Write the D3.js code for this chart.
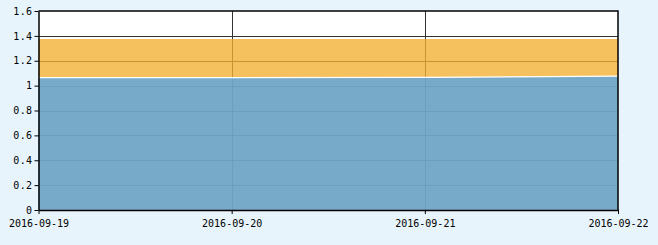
<!DOCTYPE html>
<html>
<head>
<meta charset="utf-8">
<script src="https://cdn.jsdelivr.net/npm/d3@7"></script>
<style>
  body { margin: 0; background: #e8f4fc; }
  svg text { font-family: "DejaVu Sans Mono", "Liberation Mono", monospace; font-size: 10px; fill: #000; }
</style>
</head>
<body>
<svg id="chart" width="658" height="245"></svg>
<script>
const dates = ["2016-09-19", "2016-09-20", "2016-09-21", "2016-09-22"];
const lowerSeries = [1.065, 1.065, 1.066, 1.077];
const upperSeries = [0.31, 0.31, 0.309, 0.298];
const yTicks = [0, 0.2, 0.4, 0.6, 0.8, 1, 1.2, 1.4, 1.6];

const margin = {left: 38.5, right: 40, top: 11, bottom: 35};
const width = 658, height = 245;

const svg = d3.select("#chart");

const x = d3.scalePoint()
    .domain(dates)
    .range([margin.left, width - margin.right]);

const y = d3.scaleLinear()
    .domain([0, 1.6])
    .range([height - margin.bottom, margin.top]);

// plot background
svg.append("rect")
    .attr("x", margin.left)
    .attr("y", margin.top)
    .attr("width", x.range()[1] - margin.left)
    .attr("height", y(0) - margin.top)
    .attr("fill", "#fff");

// grid under the areas
let grid = svg.append("g").attr("stroke", "#333").attr("stroke-width", 1);
grid.selectAll(".hy")
    .data(yTicks.filter(d => d > 0 && d < 1.6))
    .join("line")
    .attr("x1", margin.left)
    .attr("x2", x.range()[1])
    .attr("y1", d => Math.round(y(d)) + 0.5)
    .attr("y2", d => Math.round(y(d)) + 0.5);
grid.selectAll(".vx")
    .data(dates.slice(1, -1))
    .join("line")
    .attr("x1", d => Math.round(x(d)) + 0.5)
    .attr("x2", d => Math.round(x(d)) + 0.5)
    .attr("y1", margin.top)
    .attr("y2", y(0));

const rows = dates.map((d, i) => ({date: d, lower: lowerSeries[i], upper: upperSeries[i]}));
const stacked = d3.stack().keys(["lower", "upper"])(rows);

const area = d3.area()
    .x(d => x(d.data.date))
    .y0(d => y(d[0]))
    .y1(d => y(d[1]));

const fills = {lower: "#70a5c5", upper: "#f2b032"};
const opac = {lower: 0.95, upper: 0.78};

svg.append("g").selectAll("path")
    .data(stacked)
    .join("path")
    .attr("d", area)
    .attr("fill", d => fills[d.key])
    .attr("fill-opacity", d => opac[d.key]);

// white separator line on top of blue area
svg.append("path")
    .datum(rows)
    .attr("d", d3.line().x(d => x(d.date)).y(d => y(d.lower)))
    .attr("fill", "none")
    .attr("stroke", "#fff")
    .attr("stroke-width", 1.2);

// axes
const yAxis = d3.axisLeft(y).tickValues(yTicks).tickSize(4).tickSizeOuter(0)
    .tickFormat(d => d3.format("")(d));
const gy = svg.append("g")
    .attr("transform", `translate(${margin.left},0)`)
    .call(yAxis);
gy.select(".domain").attr("stroke", "#000").attr("stroke-width", 1.5);
gy.selectAll(".tick line").attr("stroke", "#000");
gy.selectAll(".tick text").attr("x", -6).style("letter-spacing", "0.4px");

const xAxis = d3.axisBottom(x).tickSize(4).tickSizeOuter(0);
const gx = svg.append("g")
    .attr("transform", `translate(0,${y(0)})`)
    .call(xAxis);
gx.select(".domain").attr("stroke", "#000").attr("stroke-width", 1.5);
gx.selectAll(".tick line").attr("stroke", "#000");
gx.selectAll(".tick text").attr("dy", "1em");

// top and right frame
svg.append("path")
    .attr("d", `M${margin.left},${margin.top}H${x.range()[1]}V${y(0)}`)
    .attr("fill", "none")
    .attr("stroke", "#000")
    .attr("stroke-width", 1.5);
</script>
</body>
</html>
